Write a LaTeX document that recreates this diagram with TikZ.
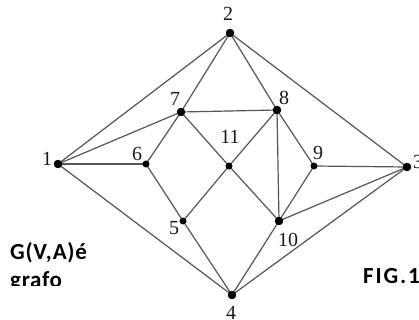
\documentclass[tikz,border=0pt]{standalone}
\usepackage{fontspec}
\setmainfont{Liberation Serif}
\newfontfamily\captionfont[LetterSpace=3]{Carlito Bold}
\newfontfamily\figfont[LetterSpace=8]{Carlito Bold}
\tikzset{
  vtx/.style={circle, fill=black, inner sep=0pt, minimum size=8pt},
  vtxs/.style={circle, fill=black, inner sep=0pt, minimum size=6.6pt},
  edge/.style={draw={rgb,255:red,85;green,85;blue,85}, line width=1.2pt},
  lbl/.style={inner sep=0pt, font=\fontsize{20}{20}\selectfont, text={rgb,255:red,25;green,25;blue,30}},
  capt/.style={inner sep=0pt, anchor=base west, font=\captionfont\fontsize{23}{23}\selectfont, text=black}
}
\begin{document}
\begin{tikzpicture}[x=1pt, y=-1pt]
  \useasboundingbox (0,0) rectangle (419,320);
  \clip (0,0) rectangle (419,320);

  % vertices
  \node[vtx]  (v1)  at (58,164)  {};
  \node[vtx]  (v2)  at (230,33)  {};
  \node[vtx]  (v3)  at (407,167) {};
  \node[vtx]  (v4)  at (232,295) {};
  \node[vtxs] (v5)  at (183,221) {};
  \node[vtxs] (v6)  at (146,164) {};
  \node[vtx]  (v7)  at (181,112) {};
  \node[vtx]  (v8)  at (277,110) {};
  \node[vtxs] (v9)  at (314,166) {};
  \node[vtx]  (v10) at (279,221) {};
  \node[vtxs] (v11) at (229,166) {};

  % edges
  \foreach \a/\b in {v1/v2, v1/v7, v1/v6, v1/v4,
                     v2/v7, v2/v8, v2/v3,
                     v7/v8, v7/v6, v7/v11, v11/v10,
                     v8/v11, v11/v5, v8/v10, v8/v9,
                     v9/v3, v9/v10, v10/v3, v3/v4,
                     v6/v5, v5/v4, v10/v4}
    \draw[edge] (\a.center) -- (\b.center);

  % redraw vertices on top of the edges
  \foreach \v in {v1,v2,v3,v4,v7,v8,v10}
    \fill (\v.center) circle (4.2pt);
  \foreach \v in {v5,v6,v9,v11}
    \fill (\v.center) circle (3.4pt);

  % vertex labels
  \node[lbl] (l1)  at (47,159)  {1};
  \node[lbl] (l2)  at (228,14)  {2};
  \node[lbl] (l3)  at (418,162) {3};
  \node[lbl] (l4)  at (231,313) {4};
  \node[lbl] (l5)  at (174,228) {5};
  \node[lbl] (l6)  at (137,154) {6};
  \node[lbl] (l7)  at (175,99)  {7};
  \node[lbl] (l8)  at (284,98)  {8};
  \node[lbl] (l9)  at (318,153) {9};
  \node[lbl] (l10) at (288,240) {10};
  \node[lbl] (l11) at (230,137) {11};

  % captions
  \node[capt] (g1) at (10,259) {G(V,A)é};
  \begin{scope}
    \clip (0,0) rectangle (140,285);
    \node[capt] (g2) at (10,287) {grafo};
  \end{scope}
  \node[capt, font=\figfont\fontsize{23}{23}\selectfont] (fig) at (363,283.5) {FIG.1};
\end{tikzpicture}
\end{document}
